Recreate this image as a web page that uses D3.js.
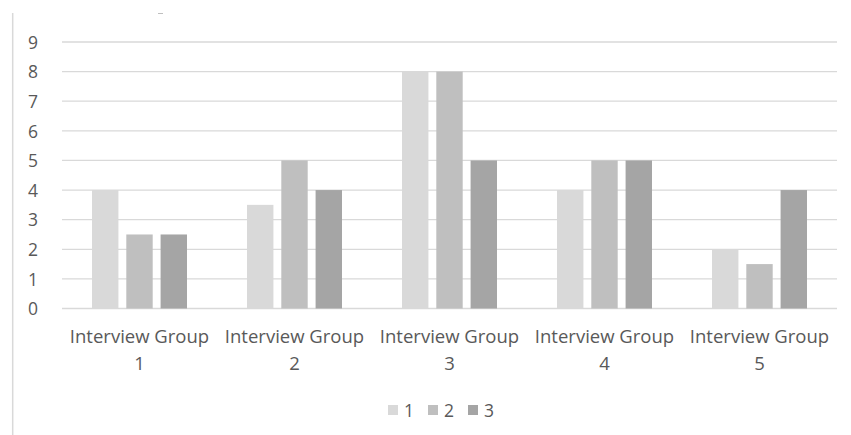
<!DOCTYPE html>
<html><head><meta charset="utf-8">
<script src="https://cdn.jsdelivr.net/npm/d3@7"></script>
<style>body{margin:0;background:#fff}svg{display:block}text{font-family:"Open Sans",sans-serif;fill:#595959}</style>
</head><body>
<svg id="c" width="851" height="435"></svg>
<script>
const categories = ["Interview Group 1","Interview Group 2","Interview Group 3","Interview Group 4","Interview Group 5"];
const seriesNames = ["1","2","3"];
const series1 = [4, 3.5, 8, 4, 2];
const series2 = [2.5, 5, 8, 5, 1.5];
const series3 = [2.5, 4, 5, 5, 4];
const yTicks = [0,1,2,3,4,5,6,7,8,9];
const colors = ["#d9d9d9","#bfbfbf","#a5a5a5"];

(function(){
const svg = d3.select("#c");
const mLeft = 62, mRight = 837, mTop = 42, mBottom = 308.5;
const allSeries = [series1, series2, series3];

const x0 = d3.scaleBand().domain(categories).range([mLeft, mRight]).padding(0);
const x1 = d3.scaleBand().domain(seriesNames).range([0, x0.bandwidth()]).paddingInner(0.23).paddingOuter(0.875);
const y = d3.scaleLinear().domain([0, 9]).range([mBottom, mTop]);

svg.append("line").attr("x1",12.7).attr("x2",12.7).attr("y1",13).attr("y2",435).attr("stroke","#d9d9d9").attr("stroke-width",1.5);
svg.append("line").attr("x1",158).attr("x2",163).attr("y1",13.5).attr("y2",13.5).attr("stroke","#bfbfbf").attr("stroke-width",1);

svg.append("g").selectAll("line").data(yTicks).join("line")
  .attr("x1", mLeft).attr("x2", mRight)
  .attr("y1", d => y(d)).attr("y2", d => y(d))
  .attr("stroke", "#d9d9d9").attr("stroke-width", 1.3);

const yAxis = d3.axisLeft(y).tickValues(yTicks).tickSize(0).tickPadding(0);
const ya = svg.append("g").attr("transform", `translate(38,0)`).call(yAxis);
ya.select(".domain").remove();
ya.selectAll("text").attr("text-anchor","middle").attr("x",-5).attr("dy","0.36em").style("font-size","17.5px").style("font-family","'Open Sans', sans-serif").attr("fill","#595959");

const groups = svg.append("g").selectAll("g").data(categories).join("g")
  .attr("transform", d => `translate(${x0(d)},0)`);
groups.selectAll("rect").data((d, i) => seriesNames.map((s, j) => ({s, v: allSeries[j][i], j}))).join("rect")
  .attr("x", d => x1(d.s)).attr("width", x1.bandwidth())
  .attr("y", d => y(d.v)).attr("height", d => y(0) - y(d.v))
  .attr("fill", d => colors[d.j]);

const xl = svg.append("g").selectAll("text").data(categories).join("text")
  .attr("text-anchor","middle").style("font-size","18.5px")
  .attr("transform", d => `translate(${x0(d) + x0.bandwidth()/2},0)`);
xl.append("tspan").attr("x",0).attr("y",342.5).text(d => d.replace(/\s\S+$/, ""));
xl.append("tspan").attr("x",0).attr("y",369.5).text(d => d.split(" ").pop());

const lg = svg.append("g").selectAll("g").data(seriesNames).join("g")
  .attr("transform", (d, i) => `translate(${388 + i*40},0)`);
lg.append("rect").attr("x",0).attr("y",405).attr("width",10).attr("height",10).attr("fill",(d,i)=>colors[i]);
lg.append("text").attr("x",16).attr("y",416.5).style("font-size","17.5px").text(d => d);
})();
</script>
</body></html>
